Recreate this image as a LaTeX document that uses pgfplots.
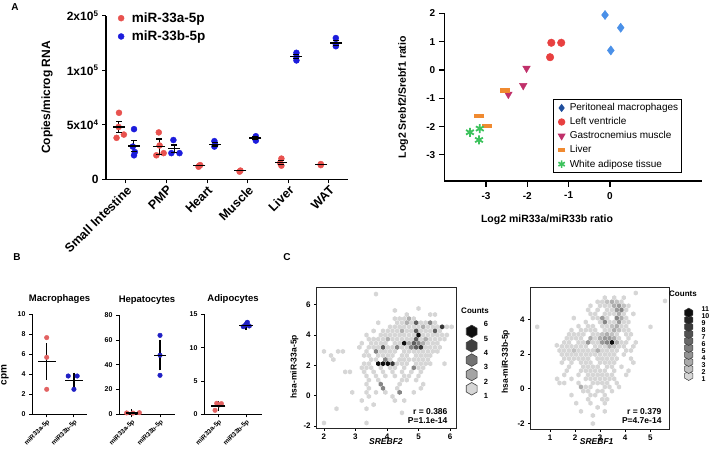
\documentclass[border=0pt]{standalone}
\usepackage{fontspec}
\setmainfont{Liberation Sans}
\usepackage{pgfplots}
\pgfplotsset{compat=1.18}

\newcommand\fs[1]{\fontsize{#1}{#1}\selectfont}

\definecolor{redA}{HTML}{E8524F}
\definecolor{bluA}{HTML}{1C1CDC}
\definecolor{redB}{HTML}{E26262}
\definecolor{bluB}{HTML}{2020C4}
\definecolor{macL}{HTML}{4A90E8}
\definecolor{macD}{HTML}{1F4E9C}
\definecolor{lvC}{HTML}{E84040}
\definecolor{gasC}{HTML}{C0306A}
\definecolor{livC}{HTML}{F08A30}
\definecolor{watC}{HTML}{3CC25C}
\definecolor{hexl}{HTML}{D6D6D6}

% hexagon marks for the hexbin panels
\pgfdeclareplotmark{hex}{%
  \pgfpathmoveto{\pgfpointpolar{90}{\pgfplotmarksize}}%
  \pgfpathlineto{\pgfpointpolar{150}{\pgfplotmarksize}}%
  \pgfpathlineto{\pgfpointpolar{210}{\pgfplotmarksize}}%
  \pgfpathlineto{\pgfpointpolar{270}{\pgfplotmarksize}}%
  \pgfpathlineto{\pgfpointpolar{330}{\pgfplotmarksize}}%
  \pgfpathlineto{\pgfpointpolar{30}{\pgfplotmarksize}}%
  \pgfpathclose\pgfusepathqfill}
\pgfdeclareplotmark{hexo}{%
  \pgfpathmoveto{\pgfpointpolar{90}{\pgfplotmarksize}}%
  \pgfpathlineto{\pgfpointpolar{150}{\pgfplotmarksize}}%
  \pgfpathlineto{\pgfpointpolar{210}{\pgfplotmarksize}}%
  \pgfpathlineto{\pgfpointpolar{270}{\pgfplotmarksize}}%
  \pgfpathlineto{\pgfpointpolar{330}{\pgfplotmarksize}}%
  \pgfpathlineto{\pgfpointpolar{30}{\pgfplotmarksize}}%
  \pgfpathclose\pgfusepathqfillstroke}

\pgfplotsset{
  colormap={hexg}{gray(0cm)=(0.84); gray(1cm)=(0.06)},
  every axis/.append style={/pgf/number format/assume math mode=true},
  prism/.style={scale only axis, anchor=south west, clip=false,
    axis x line=bottom, axis y line=left,
    axis line style={-, line width=1.1pt},
    tick align=outside, major tick length=4pt,
    tick style={black, line width=1.1pt}},
  hexax/.style={scale only axis, anchor=south west,
    axis line style={line width=0.7pt, black!85},
    tick pos=left, tick align=outside, major tick length=2.5pt,
    tick style={black, line width=0.7pt},
    tick label style={font=\bfseries\fs{8}},
    label style={font=\bfseries\fs{8.5}}},
  mean/.style={only marks, mark=-, black, mark options={line width=1.3pt}, forget plot},
  eb/.style={black, line width=1.3pt, forget plot},
}

\begin{document}
\begin{tikzpicture}
\useasboundingbox (0pt,0pt) rectangle (709pt,456pt);

\node[font=\bfseries\fs{10}] at (15pt,449pt) {A};
\node[font=\bfseries\fs{10}] at (17pt,199pt) {B};
\node[font=\bfseries\fs{10}] at (287pt,199pt) {C};

% ---------- A, copies per tissue (values in 10^4 copies) ----------
\begin{axis}[prism, at={(106pt,276.7pt)}, width=242pt, height=163.6pt,
  xmin=-0.49, xmax=5.47, ymin=0, ymax=20,
  y coord trafo/.code={\pgfmathparse{#1<=10 ? #1/5 : 2+(#1-10)/10}},
  ytick={0,5,10,20},
  yticklabels={0,5x10\textsuperscript{4},1x10\textsuperscript{5},2x10\textsuperscript{5}},
  xtick={0,...,5},
  xticklabels={Small Intestine,PMP,Heart,Muscle,Liver,WAT},
  tick label style={font=\bfseries\fs{12}},
  xticklabel style={rotate=45, anchor=north east, inner sep=1pt, font=\bfseries\fs{12.5}},
  ylabel={Copies/microg RNA},
  ylabel style={font=\bfseries\fs{12}, at={(axis description cs:-0.244,0.5)}, anchor=center},
  legend style={draw=none, fill=none, at={(0.025,1.045)}, anchor=north west,
    font=\bfseries\fs{13.5}, row sep=3pt},
  legend cell align=left,
  legend image code/.code={\path (0cm,0cm) (0.5cm,0cm); \draw[#1] plot coordinates {(0.2cm,0cm)};},
]
\addplot[only marks, mark=*, mark size=3pt, redA] coordinates {
  (-0.17,6.1) (-0.23,3.8) (-0.05,4.1) (-0.18,4.8)
  (0.81,4.3) (0.75,2.2) (0.93,2.4) (0.83,3.1)
  (1.81,1.25) (1.79,1.15) (1.83,1.3)
  (2.82,0.8) (2.80,0.7)
  (3.83,1.9) (3.83,1.25) (3.80,1.5)
  (4.80,1.4) (4.80,1.3)};
\addlegendentry{miR-33a-5p}
\addplot[only marks, mark=*, mark size=3pt, bluA] coordinates {
  (0.20,4.6) (0.17,3.0) (0.20,2.2) (0.22,2.5)
  (1.17,3.6) (1.12,2.4) (1.32,2.4)
  (2.18,3.5) (2.18,3.0) (2.20,3.15)
  (3.20,3.95) (3.20,3.55)
  (4.20,13.2) (4.20,11.8) (4.20,12.5)
  (5.17,15.9) (5.17,14.4) (5.17,14.8)};
\addlegendentry{miR-33b-5p}
% means
\addplot[mean, mark size=6pt] coordinates {
  (-0.18,4.8) (0.19,3.05) (0.82,3.0) (1.19,2.8) (1.81,1.25) (2.19,3.2)
  (2.82,0.8) (3.19,3.8) (3.82,1.55) (4.19,12.5) (4.81,1.35) (5.18,15.0)};
% SEM caps
\addplot[mean, mark size=3pt] coordinates {
  (-0.18,4.3) (-0.18,5.3) (0.19,2.55) (0.19,3.55) (0.82,2.3) (0.82,3.7)
  (1.19,2.45) (1.19,3.15) (3.82,1.35) (3.82,1.75) (4.19,12.1) (4.19,12.9)
  (5.18,14.6) (5.18,15.4) (2.19,3.05) (2.19,3.35) (3.19,3.65) (3.19,3.95)};
\addplot[eb] coordinates {(-0.18,4.3) (-0.18,5.3)};
\addplot[eb] coordinates {(0.19,2.55) (0.19,3.55)};
\addplot[eb] coordinates {(0.82,2.3) (0.82,3.7)};
\addplot[eb] coordinates {(1.19,2.45) (1.19,3.15)};
\addplot[eb] coordinates {(2.19,3.05) (2.19,3.35)};
\addplot[eb] coordinates {(3.19,3.65) (3.19,3.95)};
\addplot[eb] coordinates {(3.82,1.35) (3.82,1.75)};
\addplot[eb] coordinates {(4.19,12.1) (4.19,12.9)};
\addplot[eb] coordinates {(5.18,14.6) (5.18,15.4)};
\end{axis}

% ---------- A, ratio scatter ----------
\begin{axis}[prism, at={(444.3pt,275pt)}, width=257.4pt, height=167.7pt,
  xmin=-4.01, xmax=2.22, ymin=-3.92, ymax=2,
  xtick={-3,-2,-1,0}, ytick={-3,...,2},
  major tick length=5.5pt,
  tick label style={font=\bfseries\fs{10}},
  xticklabel style={yshift=-2pt},
  xlabel={Log2 miR33a/miR33b ratio},
  xlabel style={font=\bfseries\fs{10.5}, at={(axis description cs:0.399,-0.2326)}, anchor=center},
  ylabel={Log2 Srebf2/Srebf1 ratio},
  ylabel style={font=\bfseries\fs{10.5}, at={(axis description cs:-0.16,0.5)}, anchor=center},
  legend style={draw=black, line width=0.9pt, at={(axis cs:-1.38,-1.03)}, anchor=north west,
    font=\fs{10}, row sep=1.3pt, inner xsep=1.5pt, inner ysep=2pt},
  legend cell align=left,
  legend image code/.code={\path (0cm,0cm) (0.42cm,0cm); \draw[#1] plot coordinates {(0.22cm,0cm)};},
]
\addplot[only marks, mark=diamond*, mark size=4.6pt, macL, forget plot] coordinates {
  (-0.12,1.94) (0.26,1.49) (0.02,0.69)};
\addplot[only marks, mark=*, mark size=3.8pt, lvC, forget plot] coordinates {
  (-1.42,0.96) (-1.18,0.96) (-1.45,0.45)};
\addplot[only marks, mark=triangle*, mark size=4.4pt, gasC, mark options={rotate=180}, forget plot] coordinates {
  (-2.02,0.06) (-2.10,-0.55) (-2.46,-0.86)};
\addplot[only marks, mark=-, mark size=5pt, livC, mark options={line width=4.5pt}, forget plot] coordinates {
  (-2.53,-0.73) (-3.16,-1.62) (-2.98,-1.98)};
\addplot[only marks, mark=asterisk, mark size=4.5pt, watC, mark options={line width=1.8pt}, forget plot] coordinates {
  (-3.39,-2.2) (-3.15,-2.07) (-3.17,-2.47)};
\addlegendimage{only marks, mark=diamond*, mark size=3.4pt, macD}
\addlegendentry{Peritoneal macrophages}
\addlegendimage{only marks, mark=*, mark size=3.2pt, lvC}
\addlegendentry{Left ventricle}
\addlegendimage{only marks, mark=triangle*, mark size=3.7pt, gasC, mark options={rotate=180}}
\addlegendentry{Gastrocnemius muscle}
\addlegendimage{only marks, mark=-, mark size=3.7pt, livC, mark options={line width=3.5pt}}
\addlegendentry{Liver}
\addlegendimage{only marks, mark=asterisk, mark size=3.7pt, watC, mark options={line width=1.6pt}}
\addlegendentry{White adipose tissue}
\end{axis}

% ---------- B, cpm panels ----------
\pgfplotsset{bpan/.style={prism, width=55pt, height=100pt,
  axis line style={-, line width=0.9pt}, tick style={black, line width=0.9pt},
  major tick length=3pt,
  tick label style={font=\bfseries\fs{7}},
  xtick={0,1}, xticklabels={miR33a-5p,miR33b-5p},
  xticklabel style={rotate=45, anchor=north east, font=\bfseries\fs{6.5}, inner sep=1pt},
  title style={font=\bfseries\fs{9.5}, yshift=1pt},
  ymin=0}}
\pgfplotsset{bmean/.style={only marks, mark=-, black, mark options={line width=1.2pt},
  error bars/y dir=both, error bars/y explicit,
  error bars/error bar style={line width=1.2pt, black},
  error bars/error mark options={mark size=3.5pt, line width=1.2pt, black}}}

\begin{axis}[bpan, at={(32pt,41.7pt)}, xmin=-0.54, xmax=1.48, ymax=10, ytick={0,2,...,10},
  title={Macrophages}, width=55pt,
  ylabel={cpm}, ylabel style={font=\bfseries\fs{10}, at={(axis description cs:-0.49,0.393)}, anchor=center}]
\addplot[only marks, mark=*, mark size=2.3pt, redB] coordinates {(0,7.67) (0,5.7) (0,2.5)};
\addplot[only marks, mark=*, mark size=2.3pt, bluB] coordinates {(0.79,3.83) (1.12,3.83) (1.0,2.5)};
\addplot[bmean, mark size=9pt] table[x=x, y=y, y error=e] {
x y e
0 5.3 1.47
1 3.39 0.44
};
\end{axis}

\begin{axis}[bpan, at={(119pt,41.7pt)}, width=56pt, height=99pt, xmin=-0.45, xmax=1.53, ymax=80, ytick={0,20,...,80},
  title={Hepatocytes}]
\addplot[only marks, mark=*, mark size=2.3pt, redB] coordinates {(-0.18,1.1) (0.04,1.0) (0.27,1.3)};
\addplot[only marks, mark=*, mark size=2.3pt, bluB] coordinates {(1,63.8) (1,47.7) (1,31.5)};
\addplot[bmean, mark size=6pt] table[x=x, y=y, y error=e] {
x y e
0 1.13 0.1
1 47.7 9.3
};
\end{axis}

\begin{axis}[bpan, at={(204pt,41.7pt)}, width=58pt, xmin=-0.52, xmax=1.58, ymax=15, ytick={0,5,10,15},
  title={Adipocytes}]
\addplot[only marks, mark=*, mark size=2.3pt, redB] coordinates {(-0.06,1.65) (0.11,1.6) (-0.12,0.6) (0.03,1.4)};
\addplot[only marks, mark=*, mark size=2.3pt, bluB] coordinates {(0.9,13.15) (1.02,13.6) (1.12,13.25) (0.98,13.4) (1.05,13.8)};
\addplot[bmean, mark size=7pt] table[x=x, y=y, y error=e] {
x y e
0 1.25 0.25
1 13.35 0.15
};
\end{axis}

% ---------- C, hexbin SREBF2 vs miR-33a ----------
\begin{axis}[hexax, at={(316.7pt,27.7pt)}, width=139.3pt, height=140.6pt,
  xmin=1.77, xmax=6.19, ymin=-2.15, ymax=7.12,
  xtick={2,...,6}, ytick={-2,0,2,4,6},
  xlabel={\itshape SREBF2},
  xlabel style={at={(axis description cs:0.497,-0.095)}, anchor=center},
  ylabel={hsa-miR-33a-5p},
  ylabel style={at={(axis description cs:-0.16,0.438)}, anchor=center},
  colormap name=hexg, point meta min=1, point meta max=6]
\addplot[only marks, mark=hex, mark size=2.5pt, hexl] coordinates {
 (3.65,6.70) (4.25,5.62) (5.00,5.75) (4.625,5.35) (5.375,5.35) (5.525,5.35)
 (4.25,5.08) (4.40,5.08) (4.55,5.08) (4.85,5.08)
 (3.725,4.81) (4.325,4.81) (4.475,4.81) (4.775,4.81) (5.075,4.81) (5.225,4.81) (5.525,4.81)
 (4.10,4.54) (4.25,4.54) (4.40,4.54) (4.55,4.54) (4.70,4.54) (4.85,4.54) (5.00,4.54) (5.30,4.54) (5.45,4.54) (5.60,4.54) (5.90,4.54) (6.05,4.54)
 (3.575,4.27) (3.875,4.27) (4.025,4.27) (4.175,4.27) (4.325,4.27) (4.625,4.27) (4.775,4.27) (5.075,4.27) (5.225,4.27) (5.375,4.27) (5.675,4.27)
 (3.35,4.00) (3.80,4.00) (3.95,4.00) (4.10,4.00) (4.25,4.00) (4.40,4.00) (4.55,4.00) (4.70,4.00) (4.85,4.00) (5.15,4.00) (5.30,4.00) (5.45,4.00) (5.60,4.00) (5.75,4.00) (5.90,4.00)
 (3.425,3.73) (3.575,3.73) (3.725,3.73) (3.875,3.73) (4.175,3.73) (4.325,3.73) (4.475,3.73) (4.625,3.73) (4.775,3.73) (5.075,3.73) (5.375,3.73) (5.525,3.73) (5.675,3.73) (5.825,3.73)
 (3.20,3.46) (3.50,3.46) (3.65,3.46) (3.80,3.46) (3.95,3.46) (4.25,3.46) (4.40,3.46) (5.30,3.46) (5.45,3.46) (5.60,3.46)
 (3.125,3.19) (3.425,3.19) (3.575,3.19) (3.725,3.19) (4.025,3.19) (4.175,3.19) (4.475,3.19) (4.625,3.19) (5.225,3.19) (5.375,3.19) (5.525,3.19) (5.675,3.19)
 (2.00,2.92) (2.45,2.92) (2.60,2.92) (3.35,2.92) (3.80,2.92) (3.95,2.92) (4.10,2.92) (4.25,2.92) (4.55,2.92) (4.70,2.92) (4.85,2.92) (5.00,2.92) (5.15,2.92) (5.30,2.92) (5.45,2.92) (5.60,2.92)
 (2.225,2.65) (3.275,2.65) (3.425,2.65) (3.725,2.65) (3.875,2.65) (4.025,2.65) (4.175,2.65) (4.475,2.65) (4.625,2.65) (4.925,2.65) (5.075,2.65) (5.225,2.65) (5.375,2.65)
 (2.30,2.38) (3.50,2.38) (3.65,2.38) (4.10,2.38) (4.40,2.38) (4.55,2.38) (4.70,2.38) (4.85,2.38) (5.00,2.38) (5.15,2.38) (5.30,2.38)
 (3.275,2.11) (3.425,2.11) (4.325,2.11) (4.475,2.11) (4.625,2.11) (4.925,2.11) (5.075,2.11) (5.225,2.11) (5.375,2.11) (5.825,2.11)
 (3.20,1.84) (3.35,1.84) (3.50,1.84) (3.80,1.84) (4.10,1.84) (4.25,1.84) (4.55,1.84) (5.00,1.84) (5.15,1.84)
 (2.675,1.57) (2.825,1.57) (3.275,1.57) (3.575,1.57) (3.875,1.57) (4.175,1.57) (4.475,1.57) (4.775,1.57) (5.075,1.57)
 (3.35,1.30) (3.65,1.30) (3.95,1.30) (4.25,1.30) (4.55,1.30) (4.70,1.30) (5.00,1.30)
 (3.425,1.03) (3.725,1.03) (4.475,1.03) (4.625,1.03) (4.925,1.03)
 (3.35,0.76) (4.40,0.76) (5.15,0.76)
 (3.425,0.49) (4.325,0.49) (5.075,0.49)
 (2.90,0.22) (3.35,0.22) (3.65,0.22) (3.95,0.22) (4.85,0.22)
 (3.425,-0.05) (4.175,-0.05)
 (3.20,-0.32) (4.25,-0.32) (4.55,-0.32)
 (3.575,-0.59) (2.40,-0.86) (3.35,-0.86) (4.475,-1.13)
 (2.00,-1.80) (3.35,-1.80)};
\addplot[scatter, only marks, mark=hex, mark size=2.5pt, point meta=explicit,
  scatter/use mapped color={draw=mapped color, fill=mapped color}] coordinates {
 (4.70,5.08) [2] (4.625,4.81) [2] (5.15,4.54) [2] (4.475,4.27) [2] (5.225,3.73) [2]
 (4.70,3.46) [2] (5.15,3.46) [2] (4.025,3.73) [2]
 (5.375,4.81) [3] (5.00,3.46) [3] (4.775,3.19) [3] (4.325,3.19) [3] (3.65,2.92) [3]
 (3.95,2.38) [3] (4.85,1.84) [3] (3.80,0.76) [3] (3.875,0.49) [3] (4.40,0.22) [3]
 (4.925,4.81) [4] (4.925,4.27) [4] (5.525,4.27) [4] (4.925,3.73) [4] (4.85,3.46) [4]
 (4.925,3.19) [4] (3.875,3.19) [4]
 (5.075,3.19) [5] (4.175,2.11) [5] (5.75,4.54) [5]
 (5.00,4.00) [6] (4.55,3.46) [6] (3.725,2.11) [6] (3.875,2.11) [6] (4.025,2.11) [6]};
\node[anchor=east, font=\bfseries\fs{8.5}] at (rel axis cs:0.964,0.116) {r = 0.386};
\node[anchor=east, font=\bfseries\fs{8.5}] at (rel axis cs:0.964,0.052) {P=1.1e-14};
\end{axis}

% counts key, left hexbin
\begin{axis}[scale only axis, hide axis, anchor=south west, at={(466pt,45.7pt)}, width=20pt, height=100.4pt,
  xmin=0, xmax=1, ymin=0, ymax=7, clip=false,
  colormap name=hexg, point meta min=1, point meta max=5]
\addplot[scatter, only marks, mark=hexo, mark size=6.3pt, point meta=explicit,
  scatter/use mapped color={draw=black!75, fill=mapped color, line width=0.6pt}] coordinates {
  (0.285,1.5) [1] (0.285,2.5) [2] (0.285,3.5) [3] (0.285,4.5) [4] (0.285,5.5) [5]};
\pgfplotsinvokeforeach{1,...,6}{\node[font=\bfseries\fs{7.5}] at (axis cs:1,#1) {#1};}
\node[font=\bfseries\fs{8}] at (axis cs:0.45,6.95) {Counts};
\end{axis}

% ---------- C, hexbin SREBF1 vs miR-33b ----------
\begin{axis}[hexax, at={(530.7pt,26.7pt)}, width=138.6pt, height=142pt,
  xmin=0.23, xmax=5.76, ymin=-2.35, ymax=5.87,
  xtick={1,...,5}, ytick={-2,0,2,4},
  xlabel={\itshape SREBF1},
  xlabel style={at={(axis description cs:0.476,-0.087)}, anchor=center},
  ylabel={hsa-miR-33b-5p},
  ylabel style={at={(axis description cs:-0.18,0.476)}, anchor=center},
  colormap name=hexg, point meta min=1, point meta max=11]
\addplot[only marks, mark=hex, mark size=2.5pt, hexl] coordinates {
 (4.42,5.54) (5.59,5.08) (0.49,3.58) (5.01,3.58) (1.27,2.51)
 (3.185,5.27) (3.565,5.27) (3.945,5.27)
 (2.90,5.03) (3.09,5.03) (3.85,5.03)
 (2.615,4.80) (2.995,4.80) (3.185,4.80) (3.375,4.80) (4.135,4.80)
 (2.52,4.56) (2.90,4.56) (3.28,4.56) (3.47,4.56) (4.04,4.56)
 (2.615,4.33) (2.805,4.33) (3.185,4.33) (3.375,4.33) (3.565,4.33) (3.945,4.33) (4.325,4.33)
 (1.95,4.09) (2.71,4.09) (2.90,4.09) (3.28,4.09) (4.04,4.09)
 (2.425,3.86) (2.995,3.86) (3.375,3.86) (3.565,3.86) (3.945,3.86) (4.135,3.86)
 (2.14,3.62) (2.52,3.62) (2.71,3.62) (3.09,3.62) (3.28,3.62) (3.85,3.62) (4.04,3.62)
 (1.855,3.39) (2.235,3.39) (2.425,3.39) (2.615,3.39) (2.805,3.39) (3.185,3.39) (3.375,3.39) (3.945,3.39) (4.135,3.39)
 (1.76,3.15) (1.95,3.15) (2.14,3.15) (2.33,3.15) (2.71,3.15) (2.90,3.15) (3.66,3.15) (4.04,3.15) (4.23,3.15)
 (1.665,2.92) (1.855,2.92) (2.045,2.92) (2.235,2.92) (2.805,2.92) (3.755,2.92) (4.135,2.92)
 (1.57,2.68) (1.76,2.68) (2.14,2.68) (2.33,2.68) (2.71,2.68) (2.90,2.68) (3.85,2.68) (4.04,2.68) (4.42,2.68)
 (1.475,2.45) (1.665,2.45) (1.855,2.45) (2.045,2.45) (2.235,2.45) (2.425,2.45) (2.805,2.45) (2.995,2.45) (3.185,2.45) (3.755,2.45) (3.945,2.45) (4.325,2.45)
 (1.38,2.21) (1.57,2.21) (1.76,2.21) (2.14,2.21) (2.33,2.21) (2.52,2.21) (2.71,2.21) (3.09,2.21) (3.28,2.21) (3.47,2.21) (3.66,2.21) (4.04,2.21) (4.23,2.21)
 (1.475,1.98) (1.665,1.98) (1.855,1.98) (2.045,1.98) (2.235,1.98) (2.425,1.98) (2.615,1.98) (2.805,1.98) (2.995,1.98) (3.185,1.98) (3.375,1.98) (3.565,1.98) (3.945,1.98)
 (1.57,1.74) (1.76,1.74) (1.95,1.74) (2.14,1.74) (2.33,1.74) (2.52,1.74) (2.90,1.74) (3.09,1.74) (3.28,1.74) (3.47,1.74) (3.66,1.74) (4.23,1.74)
 (1.475,1.51) (1.855,1.51) (2.235,1.51) (2.425,1.51) (2.615,1.51) (2.995,1.51) (3.185,1.51) (3.375,1.51) (3.565,1.51) (4.325,1.51)
 (1.76,1.27) (2.33,1.27) (2.52,1.27) (2.71,1.27) (2.90,1.27) (3.28,1.27) (3.47,1.27) (3.85,1.27)
 (1.665,1.04) (2.235,1.04) (2.425,1.04) (2.615,1.04) (2.805,1.04) (2.995,1.04) (3.185,1.04) (3.565,1.04) (4.135,1.04)
 (1.57,0.80) (2.14,0.80) (2.52,0.80) (2.71,0.80) (2.90,0.80) (3.09,0.80) (3.28,0.80) (3.47,0.80) (4.04,0.80)
 (1.285,0.57) (1.855,0.57) (2.425,0.57) (2.615,0.57) (2.805,0.57) (2.995,0.57) (3.185,0.57) (3.375,0.57) (3.565,0.57)
 (1.38,0.33) (1.57,0.33) (2.14,0.33) (2.71,0.33) (2.90,0.33) (3.09,0.33) (3.28,0.33) (3.66,0.33)
 (2.425,0.10) (2.615,0.10) (3.185,0.10) (3.375,0.10) (3.755,0.10)
 (2.33,-0.14) (2.52,-0.14) (2.90,-0.14) (3.09,-0.14) (3.47,-0.14)
 (1.855,-0.37) (2.615,-0.37) (2.805,-0.37) (3.185,-0.37)
 (2.52,-0.61) (3.09,-0.61) (3.28,-0.61)
 (2.045,-0.84) (2.615,-0.84) (3.185,-0.84)
 (2.90,-1.08) (2.235,-1.31) (3.185,-1.31) (2.71,-1.55) (2.71,-2.02)};
\addplot[scatter, only marks, mark=hex, mark size=2.5pt, point meta=explicit,
  scatter/use mapped color={draw=mapped color, fill=mapped color}] coordinates {
 (3.47,3.62) [2] (3.755,3.39) [2] (3.09,3.15) [2] (3.47,3.15) [2] (3.565,2.45) [2]
 (1.95,2.21) [2] (3.28,5.03) [2] (3.66,5.03) [2] (3.945,4.80) [2]
 (3.565,4.80) [3] (3.755,4.33) [3] (3.85,4.09) [3] (3.66,3.62) [3] (3.565,3.39) [3]
 (3.28,3.15) [3] (2.615,2.92) [3] (2.995,2.92) [3] (3.565,2.92) [3] (3.66,2.68) [3]
 (3.375,2.45) [3] (2.90,2.21) [3] (2.235,0.10) [3] (3.47,5.03) [3]
 (3.755,4.80) [4] (3.66,4.56) [4] (3.09,4.09) [4] (3.755,3.86) [4] (3.185,2.92) [4]
 (3.375,2.92) [4] (2.52,2.68) [4] (3.09,2.68) [4]
 (3.85,4.56) [5] (3.66,4.09) [5] (3.185,3.86) [5] (3.28,2.68) [5]
 (3.47,2.68) [11]};
\node[anchor=east, font=\bfseries\fs{8.5}] at (rel axis cs:0.969,0.122) {r = 0.379};
\node[anchor=east, font=\bfseries\fs{8.5}] at (rel axis cs:0.969,0.058) {P=4.7e-14};
\end{axis}

% counts key, right hexbin
\begin{axis}[scale only axis, hide axis, anchor=south west, at={(688.7pt,69.7pt)}, width=13.3pt, height=84pt,
  xmin=0, xmax=1, ymin=0, ymax=12, clip=false,
  colormap name=hexg, point meta min=1, point meta max=10]
\addplot[scatter, only marks, mark=hexo, mark size=4.7pt, point meta=explicit,
  scatter/use mapped color={draw=black!75, fill=mapped color, line width=0.5pt}] coordinates {
  (0,1.5) [1] (0,2.5) [2] (0,3.5) [3] (0,4.5) [4] (0,5.5) [5]
  (0,6.5) [6] (0,7.5) [7] (0,8.5) [8] (0,9.5) [9] (0,10.5) [10]};
\pgfplotsinvokeforeach{1,...,11}{\node[anchor=west, inner sep=0pt, font=\bfseries\fs{7}] at (axis cs:0.95,#1) {#1};}
\node[font=\bfseries\fs{8}] at (axis cs:-0.43,13.2) {Counts};
\end{axis}

\end{tikzpicture}
\end{document}
